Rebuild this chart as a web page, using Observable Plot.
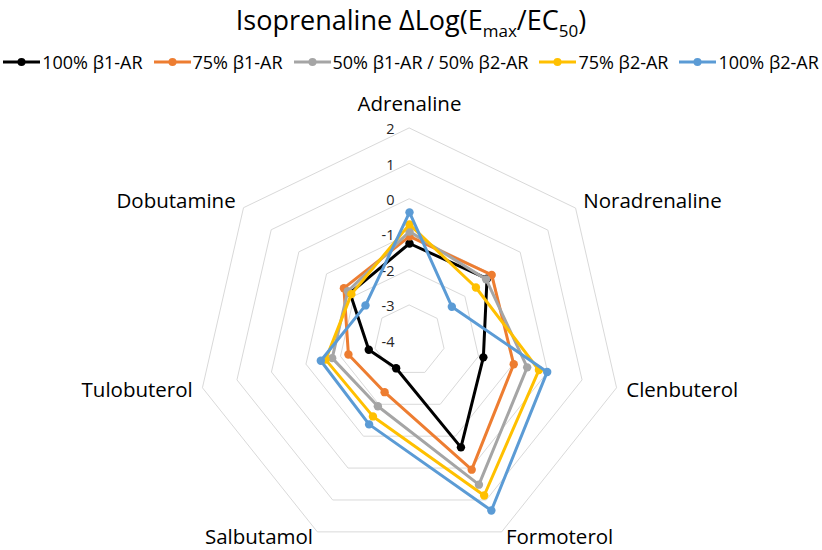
<!DOCTYPE html>
<html><head><meta charset="utf-8">
<script src="https://cdn.jsdelivr.net/npm/d3@7"></script>
<script src="https://cdn.jsdelivr.net/npm/@observablehq/plot@0.6"></script>
<style>
body{margin:0;background:#fff;font-family:"Open Sans",sans-serif;color:#000;width:822px;overflow:hidden}
#title{height:40px;line-height:40px;text-align:center;font-size:27px;white-space:nowrap}
#title .sub{font-size:17px;position:relative;top:7px}
#legend{height:44px;display:flex;justify-content:center;align-items:center;gap:11px;font-size:18px;white-space:nowrap}
.item{display:flex;align-items:center;gap:2px}
</style></head><body>
<div id="title">Isoprenaline ΔLog(E<span class="sub">max</span>/EC<span class="sub">50</span>)</div>
<div id="legend"></div>
<div id="chart"></div>
<script>
// ---- data ----
const categories = ["Adrenaline", "Noradrenaline", "Clenbuterol", "Formoterol", "Salbutamol", "Tulobuterol", "Dobutamine"];
const seriesNames = ["100% β1-AR", "75% β1-AR", "50% β1-AR / 50% β2-AR", "75% β2-AR", "100% β2-AR"];
const seriesColors = ["#000000", "#ED7D31", "#A5A5A5", "#FFC000", "#5B9BD5"];
const b1_100 = [-1.26, -1.20, -1.86, -0.65, -3.13, -2.82, -1.85];
const b1_75  = [-1.06, -1.03, -0.98, 0.05, -2.38, -2.23, -1.63];
const mix_50 = [-0.92, -1.23, -0.59, 0.52, -1.94, -1.76, -1.77];
const b2_75  = [-0.72, -1.60, -0.25, 0.86, -1.62, -1.57, -1.90];
const b2_100 = [-0.38, -2.47, -0.01, 1.33, -1.37, -1.43, -2.41];
const tickValues = [2, 1, 0, -1, -2, -3, -4];
const gridLevels = [-3, -2, -1, 0, 1, 2];
const rMin = -4, rMax = 2;

const seriesValues = [b1_100, b1_75, mix_50, b2_75, b2_100];

// ---- legend ----
const legend = document.getElementById("legend");
seriesNames.forEach((name, s) => {
  const it = document.createElement("div");
  it.className = "item";
  it.innerHTML = `<svg width="37" height="12"><line x1="0" x2="37" y1="6" y2="6" stroke="${seriesColors[s]}" stroke-width="3"/><circle cx="18.5" cy="6" r="4" fill="${seriesColors[s]}"/></svg><span>${name}</span>`;
  legend.appendChild(it);
});

// ---- polar helpers ----
const n = categories.length;
const ang = i => 2 * Math.PI * i / n;
const px = (v, i) => (v - rMin) * Math.sin(ang(i));
const py = (v, i) => (v - rMin) * Math.cos(ang(i));

const k = 35.4, cx = 409, cy = 256;

const gridPts = gridLevels.flatMap(level => categories.map((c, i) => ({level, i})));
const catPts = categories.map((c, i) => ({c, i, s: Math.sin(ang(i)), co: Math.cos(ang(i))}));
const labelR = rMax + 0.28;

const seriesMarks = seriesNames.flatMap((name, s) => {
  const pts = seriesValues[s].map((v, i) => ({name, v, i}));
  return [
    Plot.line(pts, {x: d => px(d.v, d.i), y: d => py(d.v, d.i), curve: "linear-closed",
      stroke: seriesColors[s], strokeWidth: 3, strokeLinejoin: "round"}),
    Plot.dot(pts, {x: d => px(d.v, d.i), y: d => py(d.v, d.i), r: 4.2, fill: seriesColors[s], stroke: "none"})
  ];
});

const labelOpts = (anchor, extra) => ({x: d => px(labelR, d.i), y: d => py(labelR, d.i),
  text: "c", textAnchor: anchor, fontSize: 20.5, fill: "#000", ...extra});

const chart = Plot.plot({
  width: 822,
  height: 466,
  style: {fontFamily: "'Open Sans', sans-serif", background: "white", color: "#000"},
  x: {type: "linear", domain: [0, 1], range: [cx, cx + k], axis: null},
  y: {type: "linear", domain: [0, 1], range: [cy, cy - k], axis: null},
  marks: [
    Plot.line(gridPts, {x: d => px(d.level, d.i), y: d => py(d.level, d.i), z: "level",
      curve: "linear-closed", stroke: "#D9D9D9", strokeWidth: 1}),
    Plot.text(tickValues, {x: d => px(d, 0), y: d => py(d, 0), text: d => String(d),
      textAnchor: "end", dx: -15, dy: 1.5, fontSize: 14.5, fill: "#262626"}),
    ...seriesMarks,
    Plot.text(catPts.filter(d => Math.abs(d.s) < 0.1), labelOpts("middle", {dy: -14})),
    Plot.text(catPts.filter(d => d.s >= 0.1 && d.co > -0.5), labelOpts("start", {})),
    Plot.text(catPts.filter(d => d.s <= -0.1 && d.co > -0.5), labelOpts("end", {})),
    Plot.text(catPts.filter(d => d.s >= 0.1 && d.co <= -0.5), labelOpts("start", {dy: -3})),
    Plot.text(catPts.filter(d => d.s <= -0.1 && d.co <= -0.5), labelOpts("end", {dy: -3}))
  ]
});
document.getElementById("chart").appendChild(chart);
</script>
</body></html>
